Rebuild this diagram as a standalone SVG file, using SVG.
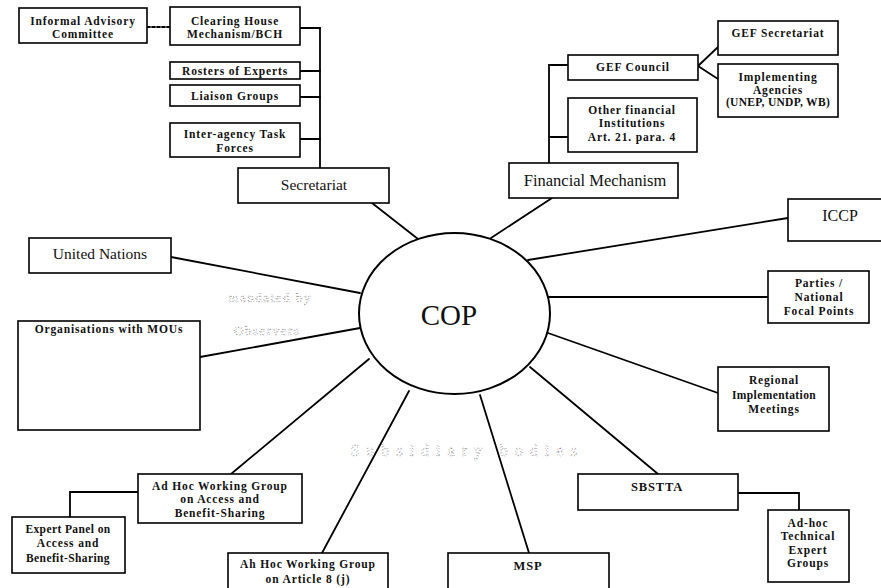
<svg xmlns="http://www.w3.org/2000/svg" width="881" height="588" viewBox="0 0 881 588">
  <style>
    .box { fill: #fff; stroke: #000; stroke-width: 1.6; }
    .ln { fill: none; stroke: #000; stroke-width: 1.8; stroke-linecap: round; stroke-linejoin: miter; }
    .dash { stroke-dasharray: 3 2; }
    text { font-family: "Liberation Serif", "Times New Roman", serif; fill: #111; text-anchor: middle; }
    .s { font-size: 11.5px; font-weight: bold; letter-spacing: 0.85px; }
    .m { font-size: 15.5px; }
    .l { font-size: 16.5px; }
    .cop { font-size: 29px; }
    .ghost { font-size: 13px; fill: none; stroke: #777; stroke-width: 0.7; stroke-dasharray: 0.8 2.2; letter-spacing: 1.5px; }
  </style>

  <rect width="881" height="588" fill="#fff"/>

  <!-- connectors -->
  <g id="connectors">
    <line class="ln dash" x1="147" y1="27" x2="170" y2="27"/>
    <!-- secretariat branch -->
    <line class="ln" x1="320" y1="28" x2="320" y2="168"/>
    <line class="ln" x1="300" y1="28" x2="320" y2="28"/>
    <line class="ln" x1="300" y1="71" x2="320" y2="71"/>
    <line class="ln" x1="300" y1="97" x2="320" y2="97"/>
    <line class="ln" x1="300" y1="139" x2="320" y2="139"/>
    <!-- financial mechanism branch -->
    <line class="ln" x1="549" y1="65" x2="549" y2="163"/>
    <line class="ln" x1="549" y1="65" x2="568" y2="65"/>
    <line class="ln" x1="549" y1="137" x2="568" y2="137"/>
    <line class="ln" x1="698" y1="66" x2="718" y2="47"/>
    <line class="ln" x1="698" y1="66" x2="718" y2="79"/>
    <!-- spokes from COP -->
    <line class="ln" x1="372" y1="203" x2="418" y2="239"/>
    <line class="ln" x1="552" y1="198" x2="491" y2="238"/>
    <line class="ln" x1="528" y1="260" x2="788" y2="218"/>
    <line class="ln" x1="549" y1="297" x2="768" y2="297"/>
    <line class="ln" x1="548" y1="333" x2="718" y2="393"/>
    <line class="ln" x1="530" y1="367" x2="658" y2="474"/>
    <line class="ln" x1="480" y1="395" x2="529" y2="553"/>
    <line class="ln" x1="409" y1="391" x2="322" y2="553"/>
    <line class="ln" x1="369" y1="359" x2="231" y2="474"/>
    <line class="ln" x1="360" y1="328" x2="200" y2="357"/>
    <line class="ln" x1="360" y1="293" x2="171" y2="257"/>
    <!-- sub-bodies -->
    <polyline class="ln" points="738,493 799,493 799,510"/>
    <polyline class="ln" points="138,492 70,492 70,517"/>
  </g>

  <!-- faint overprinted labels -->
  <g id="ghost-labels">
    <text class="ghost" x="270" y="302">mandated by</text>
    <text class="ghost" x="267" y="335">Observers</text>
    <text class="ghost" x="467" y="456" style="font-size:16px;letter-spacing:7px">Subsidiary bodies</text>
  </g>

  <g id="cop">
    <ellipse cx="454.5" cy="313.5" rx="95.5" ry="80.5" fill="#fff" stroke="#000" stroke-width="2"/>
    <text class="cop" x="449" y="325">COP</text>
  </g>

  <g id="informal-advisory">
    <rect class="box" x="19" y="8" width="128" height="35"/>
    <text class="s" x="83" y="25">Informal Advisory</text>
    <text class="s" x="83" y="38">Committee</text>
  </g>
  <g id="clearing-house">
    <rect class="box" x="170" y="7" width="130" height="38"/>
    <text class="s" x="235" y="25">Clearing House</text>
    <text class="s" x="235" y="38">Mechanism/BCH</text>
  </g>
  <g id="rosters">
    <rect class="box" x="170" y="62" width="130" height="17"/>
    <text class="s" x="235" y="74.5">Rosters of Experts</text>
  </g>
  <g id="liaison">
    <rect class="box" x="170" y="85" width="130" height="21"/>
    <text class="s" x="235" y="100">Liaison Groups</text>
  </g>
  <g id="task-forces">
    <rect class="box" x="170" y="123" width="130" height="34"/>
    <text class="s" x="235" y="138">Inter-agency Task</text>
    <text class="s" x="235" y="152">Forces</text>
  </g>
  <g id="secretariat">
    <rect class="box" x="238" y="168" width="151" height="35"/>
    <text class="m" x="314" y="190">Secretariat</text>
  </g>

  <g id="gef-council">
    <rect class="box" x="568" y="55" width="130" height="25"/>
    <text class="s" x="633" y="71">GEF Council</text>
  </g>
  <g id="other-financial">
    <rect class="box" x="568" y="98" width="129" height="54"/>
    <text class="s" x="632" y="114">Other financial</text>
    <text class="s" x="632" y="127">Institutions</text>
    <text class="s" x="632" y="141">Art. 21. para. 4</text>
  </g>
  <g id="gef-secretariat">
    <rect class="box" x="718" y="21" width="120" height="34"/>
    <text class="s" x="778" y="37">GEF Secretariat</text>
  </g>
  <g id="implementing-agencies">
    <rect class="box" x="718" y="64" width="120" height="53"/>
    <text class="s" x="778" y="81">Implementing</text>
    <text class="s" x="778" y="94">Agencies</text>
    <text class="s" x="778" y="106" style="letter-spacing:0.3px">(UNEP, UNDP, WB)</text>
  </g>
  <g id="financial-mechanism">
    <rect class="box" x="509" y="163" width="169" height="35"/>
    <text class="l" x="595" y="186">Financial Mechanism</text>
  </g>

  <g id="iccp">
    <rect class="box" x="788" y="199" width="100" height="42"/>
    <text class="m" x="840" y="221" style="font-size:16px">ICCP</text>
  </g>
  <g id="parties">
    <rect class="box" x="768" y="271" width="101" height="52"/>
    <text class="s" x="819" y="287">Parties /</text>
    <text class="s" x="819" y="301">National</text>
    <text class="s" x="819" y="315">Focal Points</text>
  </g>
  <g id="regional-meetings">
    <rect class="box" x="718" y="367" width="111" height="64"/>
    <text class="s" x="774" y="384">Regional</text>
    <text class="s" x="774" y="399" style="letter-spacing:0.4px">Implementation</text>
    <text class="s" x="774" y="413">Meetings</text>
  </g>
  <g id="sbstta">
    <rect class="box" x="578" y="474" width="160" height="36"/>
    <text class="s" x="657" y="491" style="font-size:12.5px">SBSTTA</text>
  </g>
  <g id="technical-expert-groups">
    <rect class="box" x="768" y="510" width="81" height="72"/>
    <text class="s" x="808" y="527">Ad-hoc</text>
    <text class="s" x="808" y="540">Technical</text>
    <text class="s" x="808" y="554">Expert</text>
    <text class="s" x="808" y="567">Groups</text>
  </g>
  <g id="msp">
    <rect class="box" x="448" y="553" width="161" height="40"/>
    <text class="s" x="528" y="570" style="font-size:12.5px">MSP</text>
  </g>
  <g id="article-8j">
    <rect class="box" x="228" y="553" width="160" height="40"/>
    <text class="s" x="308" y="568">Ah Hoc Working Group</text>
    <text class="s" x="308" y="583">on Article 8 (j)</text>
  </g>
  <g id="abs-working-group">
    <rect class="box" x="138" y="474" width="164" height="49"/>
    <text class="s" x="220" y="490">Ad Hoc Working Group</text>
    <text class="s" x="220" y="503">on Access and</text>
    <text class="s" x="220" y="517">Benefit-Sharing</text>
  </g>
  <g id="abs-expert-panel">
    <rect class="box" x="12" y="517" width="113" height="56"/>
    <text class="s" x="68" y="533" style="letter-spacing:0.4px">Expert Panel on</text>
    <text class="s" x="68" y="547">Access and</text>
    <text class="s" x="68" y="562" style="letter-spacing:0.4px">Benefit-Sharing</text>
  </g>
  <g id="organisations-mous">
    <rect class="box" x="18" y="321" width="182" height="109"/>
    <text class="s" x="109" y="333">Organisations with MOUs</text>
  </g>
  <g id="united-nations">
    <rect class="box" x="29" y="238" width="142" height="35"/>
    <text class="m" x="100" y="259">United Nations</text>
  </g>
</svg>
